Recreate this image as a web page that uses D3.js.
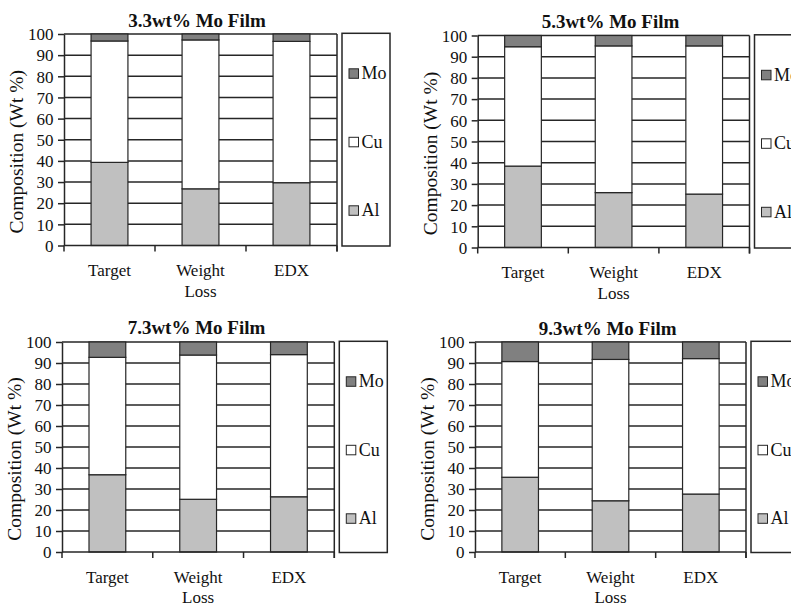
<!DOCTYPE html>
<html>
<head>
<meta charset="utf-8">
<script src="https://cdn.jsdelivr.net/npm/d3@7"></script>
<style>
  html, body { margin: 0; padding: 0; background: #fff; }
  svg { display: block; }
</style>
</head>
<body>
<svg id="chart" width="791" height="607"></svg>
<script>
// Composition of Al-Cu-Mo films: nominal target vs. weight-loss estimate vs. EDX
const categories = ["Target", "Weight Loss", "EDX"];
const filmTitles = ["3.3wt% Mo Film", "5.3wt% Mo Film", "7.3wt% Mo Film", "9.3wt% Mo Film"];
const alValues = [
  [39.3, 26.8, 29.7],
  [38.4, 25.9, 25.2],
  [36.8, 25.1, 26.3],
  [35.6, 24.4, 27.6]
];
const cuValues = [
  [57.4, 70.4, 66.8],
  [56.3, 69.2, 69.9],
  [55.9, 68.7, 67.7],
  [55.1, 67.3, 64.5]
];
const moValues = [
  [3.3, 2.8, 3.5],
  [5.3, 4.9, 4.9],
  [7.3, 6.2, 6.0],
  [9.3, 8.3, 7.9]
];
const yTicks = [0, 10, 20, 30, 40, 50, 60, 70, 80, 90, 100];
const seriesNames = ["Al", "Cu", "Mo"];
const legendOrder = ["Mo", "Cu", "Al"];
const yTitle = "Composition (Wt %)";

const fills = { Al: "#c0c0c0", Cu: "#ffffff", Mo: "#808080" };
const ink = "#262626";
const serif = "'Liberation Serif', 'Times New Roman', Times, 'DejaVu Serif', serif";

// plot rectangle of each panel
const panels = [
  { left: 64,    top: 34,   right: 337,   bottom: 245.5, titleX: 197, titleY: 27 },
  { left: 477.7, top: 35.5, right: 749.5, bottom: 247.5, titleX: 610.5, titleY: 28 },
  { left: 62,    top: 342,  right: 334.3, bottom: 552,   titleX: 196.5, titleY: 333.5 },
  { left: 475,   top: 342,  right: 746,   bottom: 552,   titleX: 607.7, titleY: 334.5 }
];

const svg = d3.select("#chart");

panels.forEach((p, i) => {
  const g = svg.append("g");

  const x = d3.scaleBand().domain(categories).range([p.left, p.right]).padding(0);
  const y = d3.scaleLinear().domain([0, 100]).range([p.bottom, p.top]);
  const barW = x.bandwidth() * 0.405;

  const rows = categories.map((c, j) => ({
    cat: c, Al: alValues[i][j], Cu: cuValues[i][j], Mo: moValues[i][j]
  }));
  const stacked = d3.stack().keys(seriesNames)(rows);

  // horizontal gridlines
  g.append("g").selectAll("line").data(yTicks.filter(t => t > 0)).join("line")
    .attr("x1", p.left).attr("x2", p.right)
    .attr("y1", d => y(d)).attr("y2", d => y(d))
    .attr("stroke", ink).attr("stroke-width", 1.5);

  // right border of the plot, running down to the last category tick
  g.append("line")
    .attr("x1", p.right).attr("x2", p.right)
    .attr("y1", p.top).attr("y2", p.bottom + 6)
    .attr("stroke", ink).attr("stroke-width", 1.5);

  // stacked bars
  g.append("g").selectAll("g").data(stacked).join("g")
    .attr("fill", d => fills[d.key])
    .selectAll("rect").data(d => d).join("rect")
    .attr("x", d => x(d.data.cat) + (x.bandwidth() - barW) / 2)
    .attr("width", barW)
    .attr("y", d => y(d[1]))
    .attr("height", d => y(d[0]) - y(d[1]))
    .attr("stroke", ink).attr("stroke-width", 1.2);

  // y axis
  const yAxis = g.append("g")
    .attr("transform", `translate(${p.left},0)`)
    .call(d3.axisLeft(y).tickValues(yTicks).tickSize(6).tickPadding(4.5).tickSizeOuter(0));
  yAxis.attr("font-family", null).attr("font-size", null);
  yAxis.select(".domain").attr("stroke", ink).attr("stroke-width", 1.5);
  yAxis.selectAll(".tick line").attr("stroke", ink).attr("stroke-width", 1.5);
  yAxis.selectAll(".tick text")
    .attr("fill", "#111").attr("dy", "0.34em")
    .style("font-family", serif).style("font-size", "17px");

  // x axis: line, boundary ticks and category labels
  const bounds = categories.map(c => x(c)).concat([p.right]);
  g.append("line")
    .attr("x1", p.left).attr("x2", p.right)
    .attr("y1", p.bottom).attr("y2", p.bottom)
    .attr("stroke", ink).attr("stroke-width", 1.5);
  g.append("g").selectAll("line").data(bounds).join("line")
    .attr("x1", d => d).attr("x2", d => d)
    .attr("y1", p.bottom).attr("y2", p.bottom + 6)
    .attr("stroke", ink).attr("stroke-width", 1.5);
  const xl = g.append("g").selectAll("text").data(categories).join("text")
    .attr("x", d => x(d) + x.bandwidth() / 2)
    .attr("y", p.bottom + 30.5)
    .attr("text-anchor", "middle")
    .attr("fill", "#111")
    .style("font-family", serif).style("font-size", "17px");
  xl.each(function (d) {
    const words = d.split(" ");
    const t = d3.select(this);
    words.forEach((w, k) => {
      t.append("tspan")
        .attr("x", x(d) + x.bandwidth() / 2)
        .attr("dy", k === 0 ? 0 : 20.5)
        .text(w);
    });
  });

  // y axis title
  g.append("text")
    .attr("transform", `translate(${p.left - 41},${(p.top + p.bottom) / 2 + 12}) rotate(-90)`)
    .attr("text-anchor", "middle")
    .attr("fill", "#111")
    .style("font-family", serif).style("font-size", "19.5px")
    .text(yTitle);

  // panel title
  g.append("text")
    .attr("x", p.titleX).attr("y", p.titleY)
    .attr("text-anchor", "middle")
    .attr("fill", "#111")
    .style("font-family", serif).style("font-size", "19px").style("font-weight", "bold")
    .text(filmTitles[i]);

  // legend box
  const lx = p.right + 5, ly = p.top - 0.7, lh = p.bottom - p.top + 1.2;
  const lg = g.append("g");
  lg.append("rect")
    .attr("x", lx).attr("y", ly).attr("width", 48).attr("height", lh)
    .attr("fill", "#fff").attr("stroke", ink).attr("stroke-width", 1.5);
  const itemY = d3.scalePoint().domain(legendOrder).range([ly + 40, ly + 177]);
  const items = lg.selectAll("g.item").data(legendOrder).join("g").attr("class", "item");
  items.append("rect")
    .attr("x", lx + 7).attr("y", d => itemY(d) - 4.5)
    .attr("width", 9.5).attr("height", 9.5)
    .attr("fill", d => fills[d]).attr("stroke", ink).attr("stroke-width", 1);
  items.append("text")
    .attr("x", lx + 19.5).attr("y", d => itemY(d))
    .attr("dy", "0.34em")
    .attr("fill", "#111")
    .style("font-family", serif).style("font-size", "18px")
    .text(d => d);
});
</script>
</body>
</html>
